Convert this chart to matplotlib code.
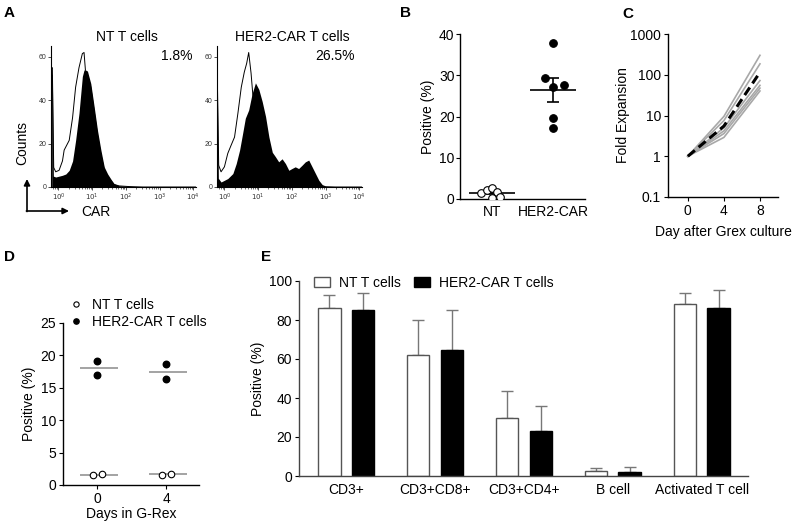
import numpy as np
import matplotlib
matplotlib.use('Agg')
import matplotlib.pyplot as plt
from matplotlib.ticker import LogLocator, FixedLocator, NullFormatter, FuncFormatter, NullLocator
from matplotlib.lines import Line2D
from matplotlib.patches import Patch

plt.rcParams['font.family'] = ['Liberation Sans', 'DejaVu Sans']
plt.rcParams['font.size'] = 10
plt.rcParams['axes.linewidth'] = 1.0

# ---------------- data ----------------
# Panel A: histograms (log10 fluorescence, counts)
nt_fill_u = [-0.2, -0.18, -0.15, -0.08, 0.12, 0.22, 0.32, 0.42, 0.51, 0.61, 0.71, 0.76, 0.86, 0.96,
             1.06, 1.16, 1.26, 1.36, 1.46, 1.55, 1.65, 1.8, 2.1, 2.5, 4.1]
nt_fill_c = [52, 52, 5, 4.6, 5.4, 6, 7.7, 12, 21.5, 34, 51, 54, 53.5, 47.7,
             37, 26, 17, 9.2, 6, 3.8, 1.5, 0.6, 0.3, 0, 0]
nt_open_u = [-0.2, -0.18, -0.14, -0.08, 0.02, 0.12, 0.17, 0.22, 0.32, 0.42, 0.51, 0.61, 0.71, 0.76,
             0.8, 0.86, 0.96, 1.06, 1.16, 1.26, 1.36, 1.46, 1.55, 1.65, 1.8, 2.1, 2.5, 4.1]
nt_open_c = [55, 55, 9, 7, 7.7, 12, 17, 18.5, 21.5, 32, 46, 55, 61.5, 62,
             54, 52, 46, 35, 24, 15, 8, 5, 3, 1.2, 0.5, 0.2, 0, 0]
her_fill_u = [-0.23, -0.21, -0.18, -0.1, 0.1, 0.25, 0.35, 0.45, 0.54, 0.62, 0.72, 0.82, 0.92, 1.02,
              1.12, 1.22, 1.32, 1.42, 1.51, 1.61, 1.71, 1.81, 1.91, 2.0, 2.1, 2.2, 2.3, 2.4, 2.5,
              2.6, 2.7, 2.8, 2.9, 3.0, 3.3, 3.7, 4.1]
her_fill_c = [48, 48, 4, 2.3, 3.9, 6.2, 10.8, 17, 24.7, 31.7, 35.5, 43, 48, 45,
              39.4, 32.5, 23, 16, 14, 11.6, 13, 10.8, 7.7, 8.5, 9.3, 8.5, 10, 11.6, 12.4,
              9.3, 6.2, 3.1, 1.1, 0.5, 0.2, 0, 0]
her_open_u = [-0.23, -0.21, -0.17, -0.1, 0.0, 0.1, 0.2, 0.3, 0.4, 0.5, 0.59, 0.66, 0.72, 0.79,
              0.84, 0.92, 1.02, 1.12, 1.22, 1.32, 1.42, 1.52, 1.7, 2.0, 2.5, 4.1]
her_open_c = [50, 50, 10, 7, 9.3, 15.5, 19.3, 23, 34, 46, 53, 57, 62, 52.5,
              43, 35, 27, 19, 12, 7, 4, 2, 0.8, 0.3, 0, 0]
pct_nt = '1.8%'
pct_her = '26.5%'

# Panel B: % positive
b_groups = ['NT', 'HER2-CAR']
b_nt = [1.5, 2.2, 2.6, 1.8, 0.2, 0.6]
b_nt_jitter = [-0.17, -0.08, 0.0, 0.08, 0.0, 0.14]
b_her = [29.3, 37.7, 27.2, 27.6, 19.6, 17.1]
b_her_jitter = [-0.13, 0.0, 0.0, 0.17, 0.0, 0.0]

# Panel C: fold expansion
c_days = [0, 4, 8]
c_donors = [
    [1, 9.5, 300],
    [1, 7.5, 185],
    [1, 5.0, 72],
    [1, 4.2, 55],
    [1, 3.6, 47],
    [1, 2.9, 40],
]
c_mean = [1, 5.5, 115]

# Panel D
d_days = [0, 4]
d_nt = [[1.5, 1.7], [1.6, 1.7]]
d_her = [[19.2, 16.9], [18.6, 16.4]]
d_jit = [-0.25, 0.25]

# Panel E
e_cats = ['CD3+', 'CD3+CD8+', 'CD3+CD4+', 'B cell', 'Activated T cell']
e_nt = [86, 62, 30, 2.5, 88]
e_nt_err = [7, 18, 13.5, 1.5, 6]
e_her = [85, 64.5, 23, 2.3, 86]
e_her_err = [9, 20.5, 13, 2.2, 9.5]

# ---------------- figure ----------------
W, H = 800, 523
fig = plt.figure(figsize=(W / 100, H / 100), dpi=100)


def px(l, t, r, b):
    return [l / W, 1 - b / H, (r - l) / W, (b - t) / H]


def clean(ax):
    ax.spines['top'].set_visible(False)
    ax.spines['right'].set_visible(False)


def dec_fmt(v, pos):
    e = int(round(np.log10(v)))
    return r'$10^{%d}$' % e


def hist_panel(rect, fu, fc, ou, oc):
    ax = fig.add_axes(px(*rect))
    ax.set_xscale('log')
    ax.plot(10 ** np.array(ou), oc, color='black', lw=0.7, zorder=1)
    ax.fill_between(10 ** np.array(fu), fc, 0, color='black', lw=0, zorder=2)
    ax.set_xlim(10 ** -0.22, 10 ** 4.08)
    ax.set_ylim(0, 65)
    clean(ax)
    ax.spines['left'].set_linewidth(0.8)
    ax.spines['bottom'].set_linewidth(0.8)
    ax.xaxis.set_major_locator(FixedLocator([1, 10, 100, 1000, 10000]))
    ax.xaxis.set_major_formatter(FuncFormatter(dec_fmt))
    ax.xaxis.set_minor_locator(LogLocator(base=10, subs=np.arange(2, 10)))
    ax.xaxis.set_minor_formatter(NullFormatter())
    ax.set_yticks([0, 20, 40, 60])
    ax.tick_params(axis='both', which='major', labelsize=5, colors='#333', length=2, width=0.6, pad=1.5)
    ax.tick_params(axis='x', which='minor', length=1.2, width=0.5, colors='#333')
    return ax


axA1 = hist_panel((51, 46, 196, 187), nt_fill_u, nt_fill_c, nt_open_u, nt_open_c)
axA2 = hist_panel((217, 46, 362, 187), her_fill_u, her_fill_c, her_open_u, her_open_c)

# overlay for annotations in pixel coordinates
ov = fig.add_axes([0, 0, 1, 1], facecolor='none')
ov.set_xlim(0, W)
ov.set_ylim(H, 0)
ov.axis('off')

ov.text(127, 37, 'NT T cells', ha='center', va='center', fontsize=10)
ov.text(292, 37, 'HER2-CAR T cells', ha='center', va='center', fontsize=10)
ov.text(192, 56, pct_nt, ha='right', va='center', fontsize=10)
ov.text(355, 56, pct_her, ha='right', va='center', fontsize=10)
ov.text(22, 143, 'Counts', rotation=90, ha='center', va='center', fontsize=10)
ov.annotate('', xy=(27, 179), xytext=(27, 211.5),
            arrowprops=dict(arrowstyle='-|>', color='k', lw=1.2, mutation_scale=9, shrinkA=0, shrinkB=0))
ov.annotate('', xy=(69, 211), xytext=(26.4, 211),
            arrowprops=dict(arrowstyle='-|>', color='k', lw=1.2, mutation_scale=9, shrinkA=0, shrinkB=0))
ov.text(81, 212, 'CAR', ha='left', va='center', fontsize=10)

for lab, x, y in [('A', 4, 13), ('B', 400, 13), ('C', 622, 14), ('D', 4, 257), ('E', 261, 257)]:
    ov.text(x, y, lab, fontsize=11, fontweight='bold', ha='left', va='center')

# ---------------- Panel B ----------------
axB = fig.add_axes(px(460, 34, 585, 199))
clean(axB)
axB.scatter(np.array(b_nt_jitter) + 0, b_nt, s=30, facecolor='white', edgecolor='black', lw=0.8, zorder=3)
axB.scatter(np.array(b_her_jitter) + 1, b_her, s=30, facecolor='black', edgecolor='black', lw=0.8, zorder=3)
for i, vals in enumerate([b_nt, b_her]):
    v = np.array(vals)
    m = v.mean()
    sem = v.std(ddof=1) / np.sqrt(len(v))
    axB.hlines(m, i - 0.38, i + 0.38, color='black', lw=1.2, zorder=2)
    axB.errorbar(i, m, yerr=sem, color='black', lw=1.2, capsize=4.5, capthick=1.2, zorder=2)
axB.set_xlim(-0.52, 1.52)
axB.set_ylim(0, 40)
axB.set_yticks([0, 10, 20, 30, 40])
axB.set_xticks([0, 1])
axB.set_xticklabels(b_groups)
axB.tick_params(axis='x', length=0, pad=4)
axB.tick_params(axis='y', length=3, pad=1)
axB.set_ylabel('Positive (%)', labelpad=3)

# ---------------- Panel C ----------------
axC = fig.add_axes(px(668, 34, 778, 197))
clean(axC)
for d in c_donors:
    axC.plot(c_days, d, color='#a8a8a8', lw=1.2, zorder=1)
axC.plot(c_days, c_mean, color='black', lw=2.2, ls=(0, (3, 1.6)), zorder=2)
axC.set_yscale('log')
axC.set_ylim(0.1, 1000)
axC.set_xlim(-2.2, 10)
axC.yaxis.set_major_locator(FixedLocator([0.1, 1, 10, 100, 1000]))
axC.yaxis.set_major_formatter(FuncFormatter(lambda v, p: ('%g' % v)))
axC.yaxis.set_minor_locator(NullLocator())
axC.set_xticks([0, 4, 8])
axC.tick_params(length=3, pad=2)
axC.set_ylabel('Fold Expansion', labelpad=0)
axC.set_xlabel('Day after Grex culture', labelpad=5)

# ---------------- Panel D ----------------
axD = fig.add_axes(px(63, 323, 199, 485))
clean(axD)
for i, day in enumerate(d_days):
    axD.scatter(np.array(d_jit) + day, d_nt[i], s=22, facecolor='white', edgecolor='black', lw=0.8, zorder=3)
    axD.scatter([day] * len(d_her[i]), d_her[i], s=22, facecolor='black', edgecolor='black', zorder=3)
    axD.hlines(np.mean(d_nt[i]), day - 1.0, day + 1.2, color='#8a8a8a', lw=1.1, zorder=2)
    axD.hlines(np.mean(d_her[i]), day - 1.0, day + 1.2, color='#8a8a8a', lw=1.1, zorder=2)
axD.set_xlim(-2, 5.9)
axD.set_ylim(0, 25)
axD.set_yticks([0, 5, 10, 15, 20, 25])
axD.set_xticks(d_days)
axD.tick_params(length=3, pad=2)
axD.set_ylabel('Positive (%)', labelpad=3)
axD.set_xlabel('Days in G-Rex', labelpad=1)
hD = [Line2D([], [], ls='none', marker='o', ms=3.8, mfc='white', mec='black', mew=0.8),
      Line2D([], [], ls='none', marker='o', ms=3.8, mfc='black', mec='black')]
axD.legend(hD, ['NT T cells', 'HER2-CAR T cells'], loc='lower left', bbox_to_anchor=(0.045, 0.965),
           frameon=False, handletextpad=0.65, handlelength=1.0, borderaxespad=0, labelspacing=0.2,
           fontsize=10, borderpad=0)

# ---------------- Panel E ----------------
axE = fig.add_axes(px(299, 281, 748, 476))
clean(axE)
xe = np.arange(len(e_cats))
bw = 0.255
off = 0.19
axE.bar(xe - off, e_nt, bw, color='white', edgecolor='#555555', lw=1.0, zorder=2, label='NT T cells')
axE.bar(xe + off, e_her, bw, color='black', edgecolor='black', lw=1.0, zorder=2, label='HER2-CAR T cells')
axE.errorbar(xe - off, e_nt, yerr=[np.zeros(len(e_nt)), e_nt_err], fmt='none', ecolor='#777777',
             lw=1.0, capsize=4.5, capthick=1.0, zorder=1)
axE.errorbar(xe + off, e_her, yerr=[np.zeros(len(e_her)), e_her_err], fmt='none', ecolor='#777777',
             lw=1.0, capsize=4.5, capthick=1.0, zorder=1)
axE.set_xlim(-0.53, 4.52)
axE.set_ylim(0, 100)
axE.set_yticks([0, 20, 40, 60, 80, 100])
axE.set_xticks(xe)
axE.set_xticklabels(e_cats)
axE.tick_params(axis='x', length=0, pad=5)
axE.tick_params(axis='y', length=3, pad=2)
axE.set_ylabel('Positive (%)', labelpad=3)
axE.spines['left'].set_color('#444444')
axE.spines['bottom'].set_color('#444444')
axE.legend(loc='upper left', bbox_to_anchor=(0.02, 1.055), ncol=2, frameon=False, fontsize=10,
           handlelength=1.15, handleheight=0.72, handletextpad=0.65, columnspacing=1.0, borderaxespad=0)

fig.savefig('out.png', dpi=100)
